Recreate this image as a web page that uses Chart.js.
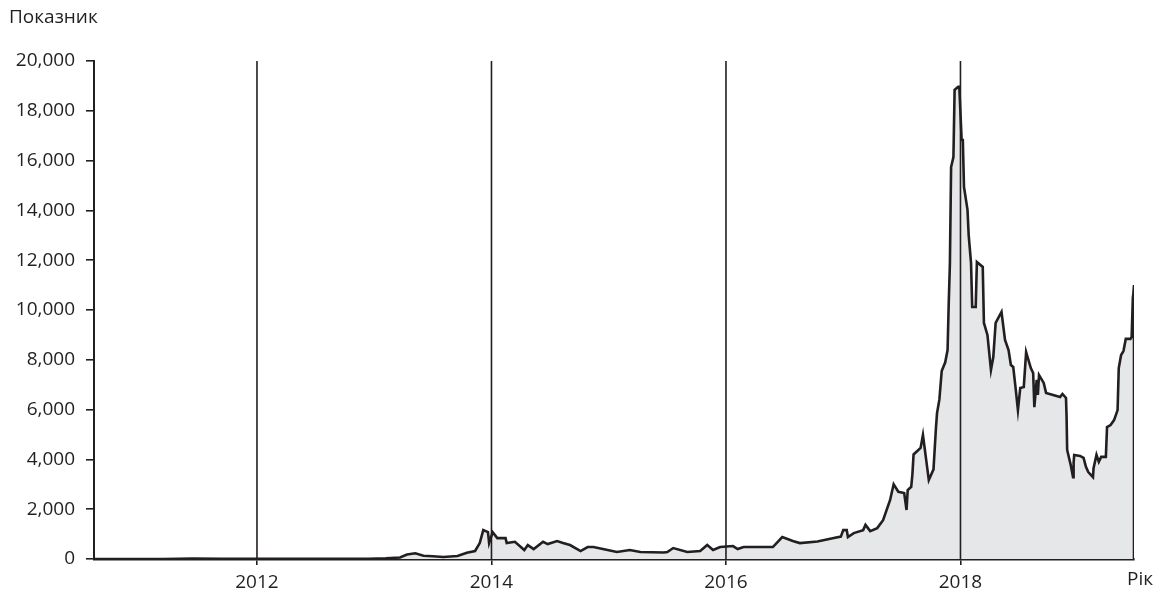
<!DOCTYPE html>
<html>
<head>
<meta charset="utf-8">
<script src="https://cdn.jsdelivr.net/npm/chart.js@4/dist/chart.umd.min.js"></script>
<style>
  html, body { margin: 0; padding: 0; background: #fff; }
  #wrap { position: relative; width: 1159px; height: 592px; }
</style>
</head>
<body>
<div id="wrap"><canvas id="chart"></canvas></div>
<script>
// price history (year as decimal, value)
const years = [
  2010.61, 2010.9, 2011.2, 2011.45, 2011.7, 2012.0, 2012.4, 2012.7, 2012.95, 2013.1,
  2013.22, 2013.28, 2013.35, 2013.42, 2013.50, 2013.59, 2013.71, 2013.79, 2013.86, 2013.90,
  2013.93, 2013.97, 2013.98, 2014.01, 2014.05, 2014.12, 2014.13, 2014.20, 2014.28, 2014.31,
  2014.36, 2014.44, 2014.48, 2014.56, 2014.61, 2014.67, 2014.76, 2014.82, 2014.87, 2014.99,
  2015.07, 2015.18, 2015.27, 2015.47, 2015.50, 2015.55, 2015.67, 2015.78, 2015.84, 2015.89,
  2015.95, 2016.06, 2016.10, 2016.15, 2016.40, 2016.48, 2016.57, 2016.63, 2016.78, 2016.92,
  2016.98, 2017.00, 2017.03, 2017.04, 2017.09, 2017.17, 2017.19, 2017.23, 2017.29, 2017.34,
  2017.40, 2017.43, 2017.47, 2017.52, 2017.54, 2017.55, 2017.58, 2017.59, 2017.60, 2017.66,
  2017.68, 2017.73, 2017.77, 2017.79, 2017.80, 2017.82, 2017.84, 2017.87, 2017.89, 2017.90,
  2017.91, 2017.92, 2017.94, 2017.95, 2017.98, 2017.99, 2018.01, 2018.02, 2018.03, 2018.06,
  2018.07, 2018.09, 2018.10, 2018.13, 2018.14, 2018.19, 2018.20, 2018.23, 2018.26, 2018.28,
  2018.30, 2018.35, 2018.38, 2018.41, 2018.43, 2018.45, 2018.47, 2018.49, 2018.51, 2018.54,
  2018.56, 2018.60, 2018.62, 2018.63, 2018.65, 2018.66, 2018.67, 2018.71, 2018.73, 2018.79,
  2018.85, 2018.87, 2018.90, 2018.905, 2018.91, 2018.94, 2018.96, 2018.965, 2018.97, 2019.02,
  2019.05, 2019.07, 2019.09, 2019.13, 2019.135, 2019.16, 2019.18, 2019.20, 2019.24, 2019.25,
  2019.28, 2019.31, 2019.34, 2019.35, 2019.37, 2019.39, 2019.41, 2019.45, 2019.46, 2019.47,
  2019.475, 2019.48, 2019.48
];
const prices = [
  0, 0.2, 1, 20, 5, 5, 6, 11, 13, 30,
  60, 180, 230, 130, 110, 80, 120, 250, 320, 640,
  1160, 1080, 640, 1080, 840, 840, 640, 690, 360, 560,
  400, 690, 600, 720, 640, 560, 320, 480, 480, 360,
  280, 360, 280, 260, 280, 440, 280, 320, 560, 360,
  480, 520, 400, 480, 480, 880, 720, 640, 700, 840,
  900, 1160, 1160, 880, 1040, 1160, 1370, 1120, 1240, 1560,
  2370, 3000, 2700, 2650, 1970, 2770, 2900, 3400, 4200, 4460,
  4980, 3170, 3600, 5200, 5860, 6400, 7550, 7900, 8390, 10300,
  11890, 15740, 16140, 18840, 18960, 18960, 16830, 16830, 14940, 14020,
  13010, 11890, 10120, 10120, 11930, 11730, 9480, 9000, 7590, 8110,
  9480, 9920, 8800, 8390, 7790, 7710, 6870, 5980, 6870, 6910,
  8310, 7670, 7470, 6100, 7190, 6590, 7390, 7070, 6670, 6590,
  6510, 6630, 6470, 5700, 4380, 3780, 3290, 3860, 4180, 4140,
  4060, 3700, 3490, 3290, 3650, 4180, 3900, 4100, 4100, 5300,
  5380, 5580, 5980, 7670, 8190, 8350, 8840, 8840, 8920, 10480,
  10680, 11000, 0
];
const yearTicks = [2012, 2014, 2016, 2018];
const yTitle = 'Показник';
const xTitle = 'Рік';

const ink = '#231f20';
const font = "'Open Sans', sans-serif";

const overlay = {
  id: 'overlay',
  afterDatasetsDraw(chart) {
    const { ctx, chartArea, scales: { x } } = chart;
    ctx.save();
    // year lines sit on top of the grey fill
    ctx.strokeStyle = ink;
    ctx.lineWidth = 1.6;
    yearTicks.forEach(yr => {
      const px = x.getPixelForValue(yr);
      ctx.beginPath();
      ctx.moveTo(px, chartArea.top);
      ctx.lineTo(px, chartArea.bottom);
      ctx.stroke();
    });
    ctx.fillStyle = ink;
    ctx.font = `19px ${font}`;
    ctx.textBaseline = 'middle';
    ctx.textAlign = 'left';
    ctx.fillText(yTitle, 9, 18);
    ctx.textAlign = 'center';
    ctx.fillText(xTitle, 1140, 580);
    ctx.restore();
  }
};

new Chart(document.getElementById('chart').getContext('2d'), {
  type: 'line',
  data: {
    datasets: [{
      data: years.map((yr, i) => ({ x: yr, y: prices[i] })),
      borderColor: ink,
      backgroundColor: '#e6e7e8',
      borderWidth: 2.6,
      tension: 0,
      fill: 'origin',
      pointRadius: 0
    }]
  },
  options: {
    responsive: true,
    maintainAspectRatio: false,
    animation: false,
    layout: { padding: { top: 61, left: 0, right: 25, bottom: 0 } },
    plugins: {
      legend: { display: false },
      tooltip: { enabled: false }
    },
    scales: {
      x: {
        type: 'linear',
        min: 2010.61,
        max: 2019.48,
        afterFit: s => { s.height = 33; },
        afterBuildTicks: s => { s.ticks = yearTicks.map(v => ({ value: v })); },
        border: { display: true, color: ink, width: 2.5 },
        grid: { drawOnChartArea: false, drawTicks: true, tickLength: 6, color: ink, lineWidth: 1.6 },
        ticks: {
          color: ink,
          padding: 6,
          maxRotation: 0,
          font: { family: font, size: 19 },
          callback: v => String(v)
        }
      },
      y: {
        min: 0,
        max: 20000,
        afterFit: s => { s.width = 94; },
        border: { display: true, color: ink, width: 2 },
        grid: { drawOnChartArea: false, drawTicks: true, tickLength: 8, color: ink, lineWidth: 1.6 },
        ticks: {
          stepSize: 2000,
          color: ink,
          padding: 11,
          font: { family: font, size: 19 },
          callback: v => v.toLocaleString('en-US')
        }
      }
    }
  },
  plugins: [overlay]
});
</script>
</body>
</html>
